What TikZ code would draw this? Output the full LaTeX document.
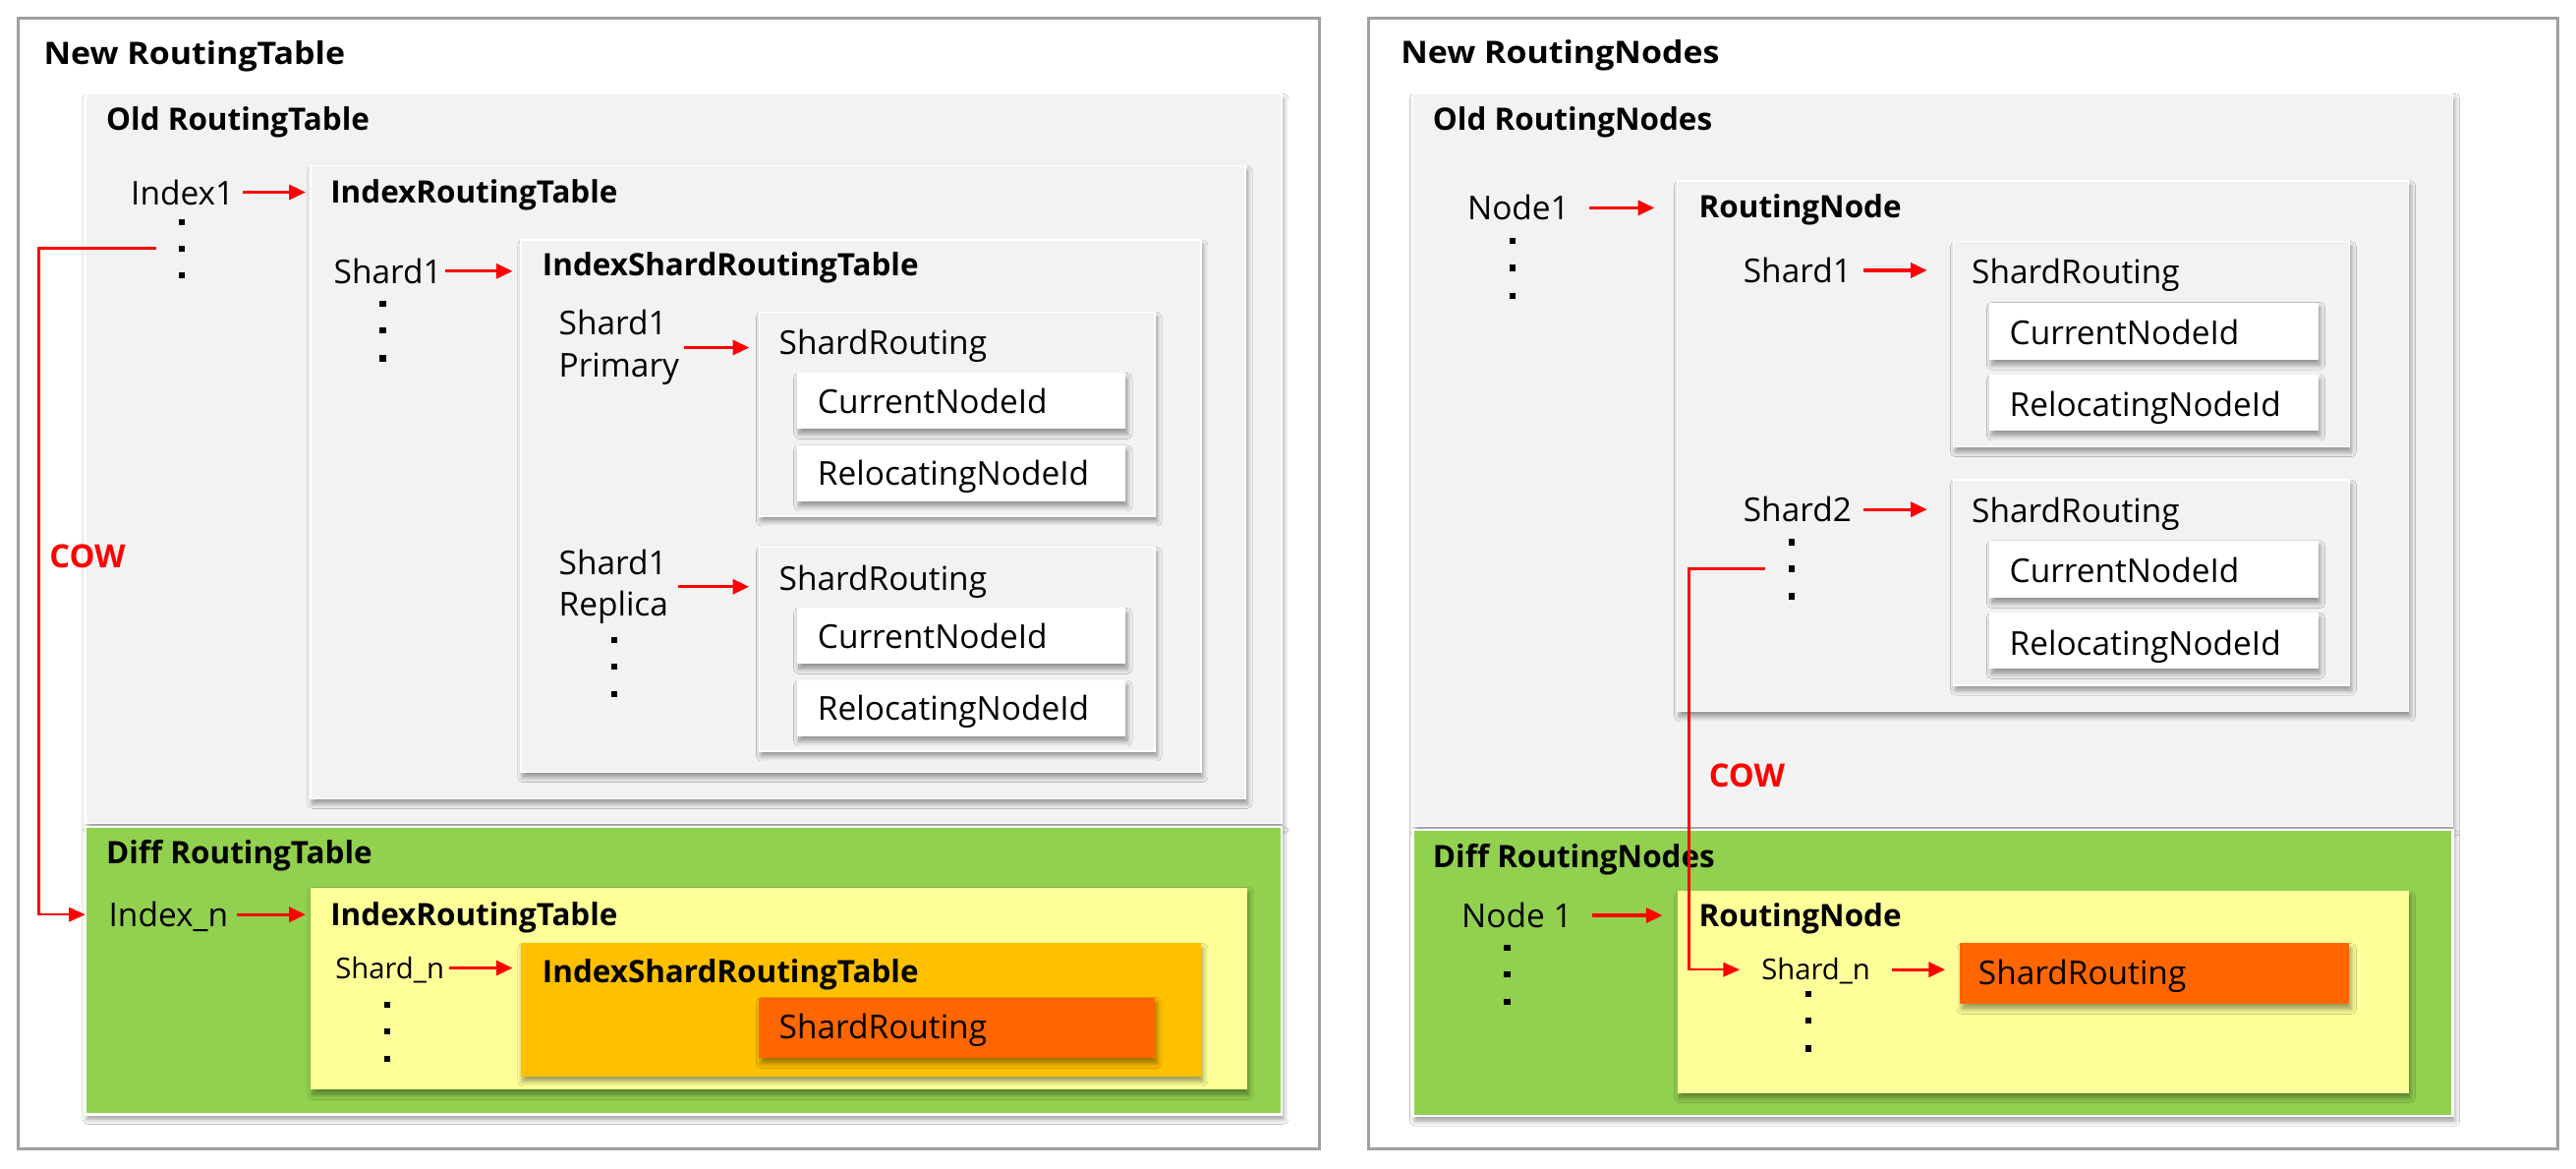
\documentclass[tikz,border=0pt]{standalone}
\usepackage{fontspec}
\usepackage{graphicx}
\setmainfont{Open Sans}
\usetikzlibrary{arrows.meta,shadows.blur,calc}
\definecolor{framec}{RGB}{160,160,160}
\definecolor{boxgray}{RGB}{242,242,242}
\definecolor{greenc}{RGB}{146,208,80}
\definecolor{yellowc}{RGB}{255,255,153}
\definecolor{orangec}{RGB}{255,192,0}
\definecolor{dorangec}{RGB}{255,102,0}
\definecolor{redc}{RGB}{255,0,0}
\tikzset{
  bx/.style={rectangle, inner sep=0pt, outer sep=0pt, anchor=north west},
  shd/.style={blur shadow={shadow xshift=1.2pt, shadow yshift=-3pt, shadow blur radius=3pt, shadow blur steps=6, shadow opacity=40}},
  outerbox/.style={bx, draw=framec, line width=2pt, fill=white},
  graybox/.style={bx, fill=boxgray, draw=white, line width=0.8pt, shd},
  greenbox/.style={bx, fill=greenc, draw=white, line width=1.5pt, shd},
  whitebox/.style={bx, fill=white, shd},
  yellowbox/.style={bx, fill=yellowc, shd},
  orangebox/.style={bx, fill=orangec, shd},
  dorangebox/.style={bx, fill=dorangec, shd},
  txt/.style={anchor=west, inner sep=0pt, text height=15pt, text depth=0pt, font=\fontsize{20}{24}\selectfont},
  txttwo/.style={anchor=west, inner sep=0pt, align=left, yshift=-2pt, font=\fontsize{20}{25.5}\selectfont},
  small/.style={anchor=west, inner sep=0pt, text height=12.5pt, text depth=0pt, font=\fontsize{17.5}{20}\selectfont},
  ttl/.style={anchor=west, inner sep=0pt, text height=13.5pt, text depth=0pt, font=\fontsize{18.8}{22}\selectfont\bfseries},
  cowtxt/.style={anchor=west, inner sep=0pt, text height=13.5pt, text depth=0pt, text=redc, font=\fontsize{19.5}{22}\selectfont\bfseries},
  arr/.style={draw=redc, line width=2pt, -{Triangle[length=10pt,width=9pt]}},
  cowarr/.style={draw=redc, line width=1.5pt, -{Triangle[length=10pt,width=8.5pt]}},
  dotm/.style={rectangle, fill=black, inner sep=0pt, outer sep=0pt, minimum width=3.8pt, minimum height=3.8pt},
}
\newcommand\mkbox[6]{\node[#2, minimum width={#5pt-#3pt}, minimum height={#6pt-#4pt}] (#1) at (#3,#4) {};}
\newcommand\mkdots[5]{%
  \node[dotm] (#1a) at (#2,#3) {};
  \node[dotm] (#1b) at (#2,#4) {};
  \node[dotm] (#1c) at (#2,#5) {};}
\newcommand\widetitle[1]{\scalebox{1.08}[1]{#1}}
\begin{document}
\begin{tikzpicture}[x=1pt,y=-1pt]
\useasboundingbox (0,0) rectangle (1568,711);
% ---------------- left panel ----------------
\mkbox{outerL}{outerbox}{11}{11}{803}{699}
\mkbox{oldL}{graybox}{52}{57}{780}{501}
\mkbox{diffL}{greenbox}{52}{503}{780}{678}
\mkbox{irtL}{graybox}{189}{101}{758}{486}
\mkbox{isrtL}{graybox}{317}{146}{731}{470}
\mkbox{srP}{graybox}{462}{190}{703}{314}
\mkbox{cnP}{whitebox}{485}{227}{685}{261}
\mkbox{rlP}{whitebox}{485}{271}{685}{305}
\mkbox{srR}{graybox}{462}{333}{703}{457}
\mkbox{cnR}{whitebox}{485}{370}{685}{404}
\mkbox{rlR}{whitebox}{485}{414}{685}{448}
\mkbox{irtD}{yellowbox}{189}{540}{759}{663}
\mkbox{isrtD}{orangebox}{317}{574}{731}{655}
\mkbox{srD}{dorangebox}{462}{607}{703}{644}

\node[ttl] (tNewL) at (26.5,32.3) {\widetitle{New RoutingTable}};
\node[ttl] (tOldL) at (64.5,72.5) {Old RoutingTable};
\node[txt] (index1) at (79.5,117) {Index1};
\node[ttl] (tIrtL) at (201,117) {IndexRoutingTable};
\node[txt] (shard1L) at (203,165) {Shard1};
\node[ttl] (tIsrtL) at (330,161) {IndexShardRoutingTable};
\node[txttwo] (primL) at (340,209.5) {Shard1\\Primary};
\node[txt] (tSrP) at (474,208) {ShardRouting};
\node[txt] (tCnP) at (497.5,243.8) {CurrentNodeId};
\node[txt] (tRlP) at (497.5,287.8) {RelocatingNodeId};
\node[txttwo] (replL) at (340,355) {Shard1\\Replica};
\node[txt] (tSrR) at (474,352) {ShardRouting};
\node[txt] (tCnR) at (497.5,387) {CurrentNodeId};
\node[txt] (tRlR) at (497.5,431) {RelocatingNodeId};
\node[cowtxt] (cowL) at (30,338.5) {COW};
\node[ttl] (tDiffL) at (64.5,519) {Diff RoutingTable};
\node[txt] (indexn) at (66,556.5) {Index\_n};
\node[ttl] (tIrtD) at (201,556.5) {IndexRoutingTable};
\node[small] (shardnL) at (204,589) {Shard\_n};
\node[ttl] (tIsrtD) at (330,591) {IndexShardRoutingTable};
\node[txt] (tSrD) at (474,624.5) {ShardRouting};

\mkdots{dI}{110.8}{135.2}{151.2}{167.5}
\mkdots{dS}{233}{185}{201}{218}
\mkdots{dR}{374}{389.5}{405.7}{422.5}
\mkdots{dN}{235.7}{611.5}{627.6}{644.3}

\draw[arr, shorten <=5pt, shorten >=3pt] (index1.east) -- (index1.east -| irtL.west);
\draw[arr, shorten <=2pt, shorten >=5pt] (shard1L.east) -- (shard1L.east -| isrtL.west);
\draw[arr, shorten <=3pt, shorten >=6pt] (primL.east) -- (primL.east -| srP.west);
\draw[arr, shorten <=6pt, shorten >=6pt] (replL.east) -- (replL.east -| srR.west);
\draw[arr, shorten <=5pt, shorten >=3pt] (indexn.east) -- (indexn.east -| irtD.west);
\draw[arr, shorten <=3pt, shorten >=5pt] (shardnL.east) -- (shardnL.east -| isrtD.west);

% ---------------- right panel ----------------
\mkbox{outerR}{outerbox}{833}{11}{1557}{699}
\mkbox{oldR}{graybox}{860}{57}{1493}{503}
\mkbox{diffR}{greenbox}{860}{505}{1493}{679}
\mkbox{rnO}{graybox}{1021}{110}{1466}{433}
\mkbox{sr1}{graybox}{1189}{147}{1430}{272}
\mkbox{cn1}{whitebox}{1211}{184}{1411}{219}
\mkbox{rl1}{whitebox}{1211}{228}{1411}{262}
\mkbox{sr2}{graybox}{1189}{292}{1430}{417}
\mkbox{cn2}{whitebox}{1211}{329}{1411}{364}
\mkbox{rl2}{whitebox}{1211}{373}{1411}{407}
\mkbox{rnD}{yellowbox}{1021}{542}{1466}{665}
\mkbox{srDR}{dorangebox}{1193}{574}{1430}{611}

\node[ttl] (tNewR) at (852.5,32) {\widetitle{New RoutingNodes}};
\node[ttl] (tOldR) at (872,72.5) {Old RoutingNodes};
\node[txt] (node1) at (893,126.5) {Node1};
\node[ttl] (tRnO) at (1034,126) {RoutingNode};
\node[txt] (shard1R) at (1061,164.5) {Shard1};
\node[txt] (tSr1) at (1200,165) {ShardRouting};
\node[txt] (tCn1) at (1223,202) {CurrentNodeId};
\node[txt] (tRl1) at (1223,246) {RelocatingNodeId};
\node[txt] (shard2R) at (1061,310) {Shard2};
\node[txt] (tSr2) at (1200,310.5) {ShardRouting};
\node[txt] (tCn2) at (1223,347) {CurrentNodeId};
\node[txt] (tRl2) at (1223,391) {RelocatingNodeId};
\node[cowtxt] (cowR) at (1040,472) {COW};
\node[ttl] (tDiffR) at (872,521) {Diff RoutingNodes};
\node[txt] (node1d) at (889.5,557) {Node 1};
\node[ttl] (tRnD) at (1034,557) {RoutingNode};
\node[small] (shardnR) at (1072,590) {Shard\_n};
\node[txt] (tSrDR) at (1204,591.5) {ShardRouting};

\mkdots{dA}{920.7}{146.5}{163}{180}
\mkdots{dB}{1090.6}{330}{346}{362.8}
\mkdots{dC}{1100.7}{605}{621}{638}
\mkdots{dD}{917.4}{576.7}{592.8}{609.6}

\draw[arr, shorten <=12pt, shorten >=14pt] (node1.east) -- (node1.east -| rnO.west);
\draw[arr, shorten <=7pt, shorten >=16pt] (shard1R.east) -- (shard1R.east -| sr1.west);
\draw[arr, shorten <=7pt, shorten >=16pt] (shard2R.east) -- (shard2R.east -| sr2.west);
\draw[arr, shorten <=12pt, shorten >=9pt] (node1d.east) -- (node1d.east -| rnD.west);
\draw[arr, shorten <=13pt, shorten >=9pt] (shardnR.east) -- (shardnR.east -| srDR.west);

% ---------------- COW connectors ----------------
\coordinate (cornerL) at (23.7,151.2);
\coordinate (cornerR) at (1028,346);
\draw[cowarr, shorten <=14pt] (dIb.west) -- (cornerL) |- (indexn.west -| diffL.west);
\draw[cowarr, shorten <=14pt, shorten >=13pt] (dBb.west) -- (cornerR) |- (shardnR.west);
\end{tikzpicture}
\end{document}
